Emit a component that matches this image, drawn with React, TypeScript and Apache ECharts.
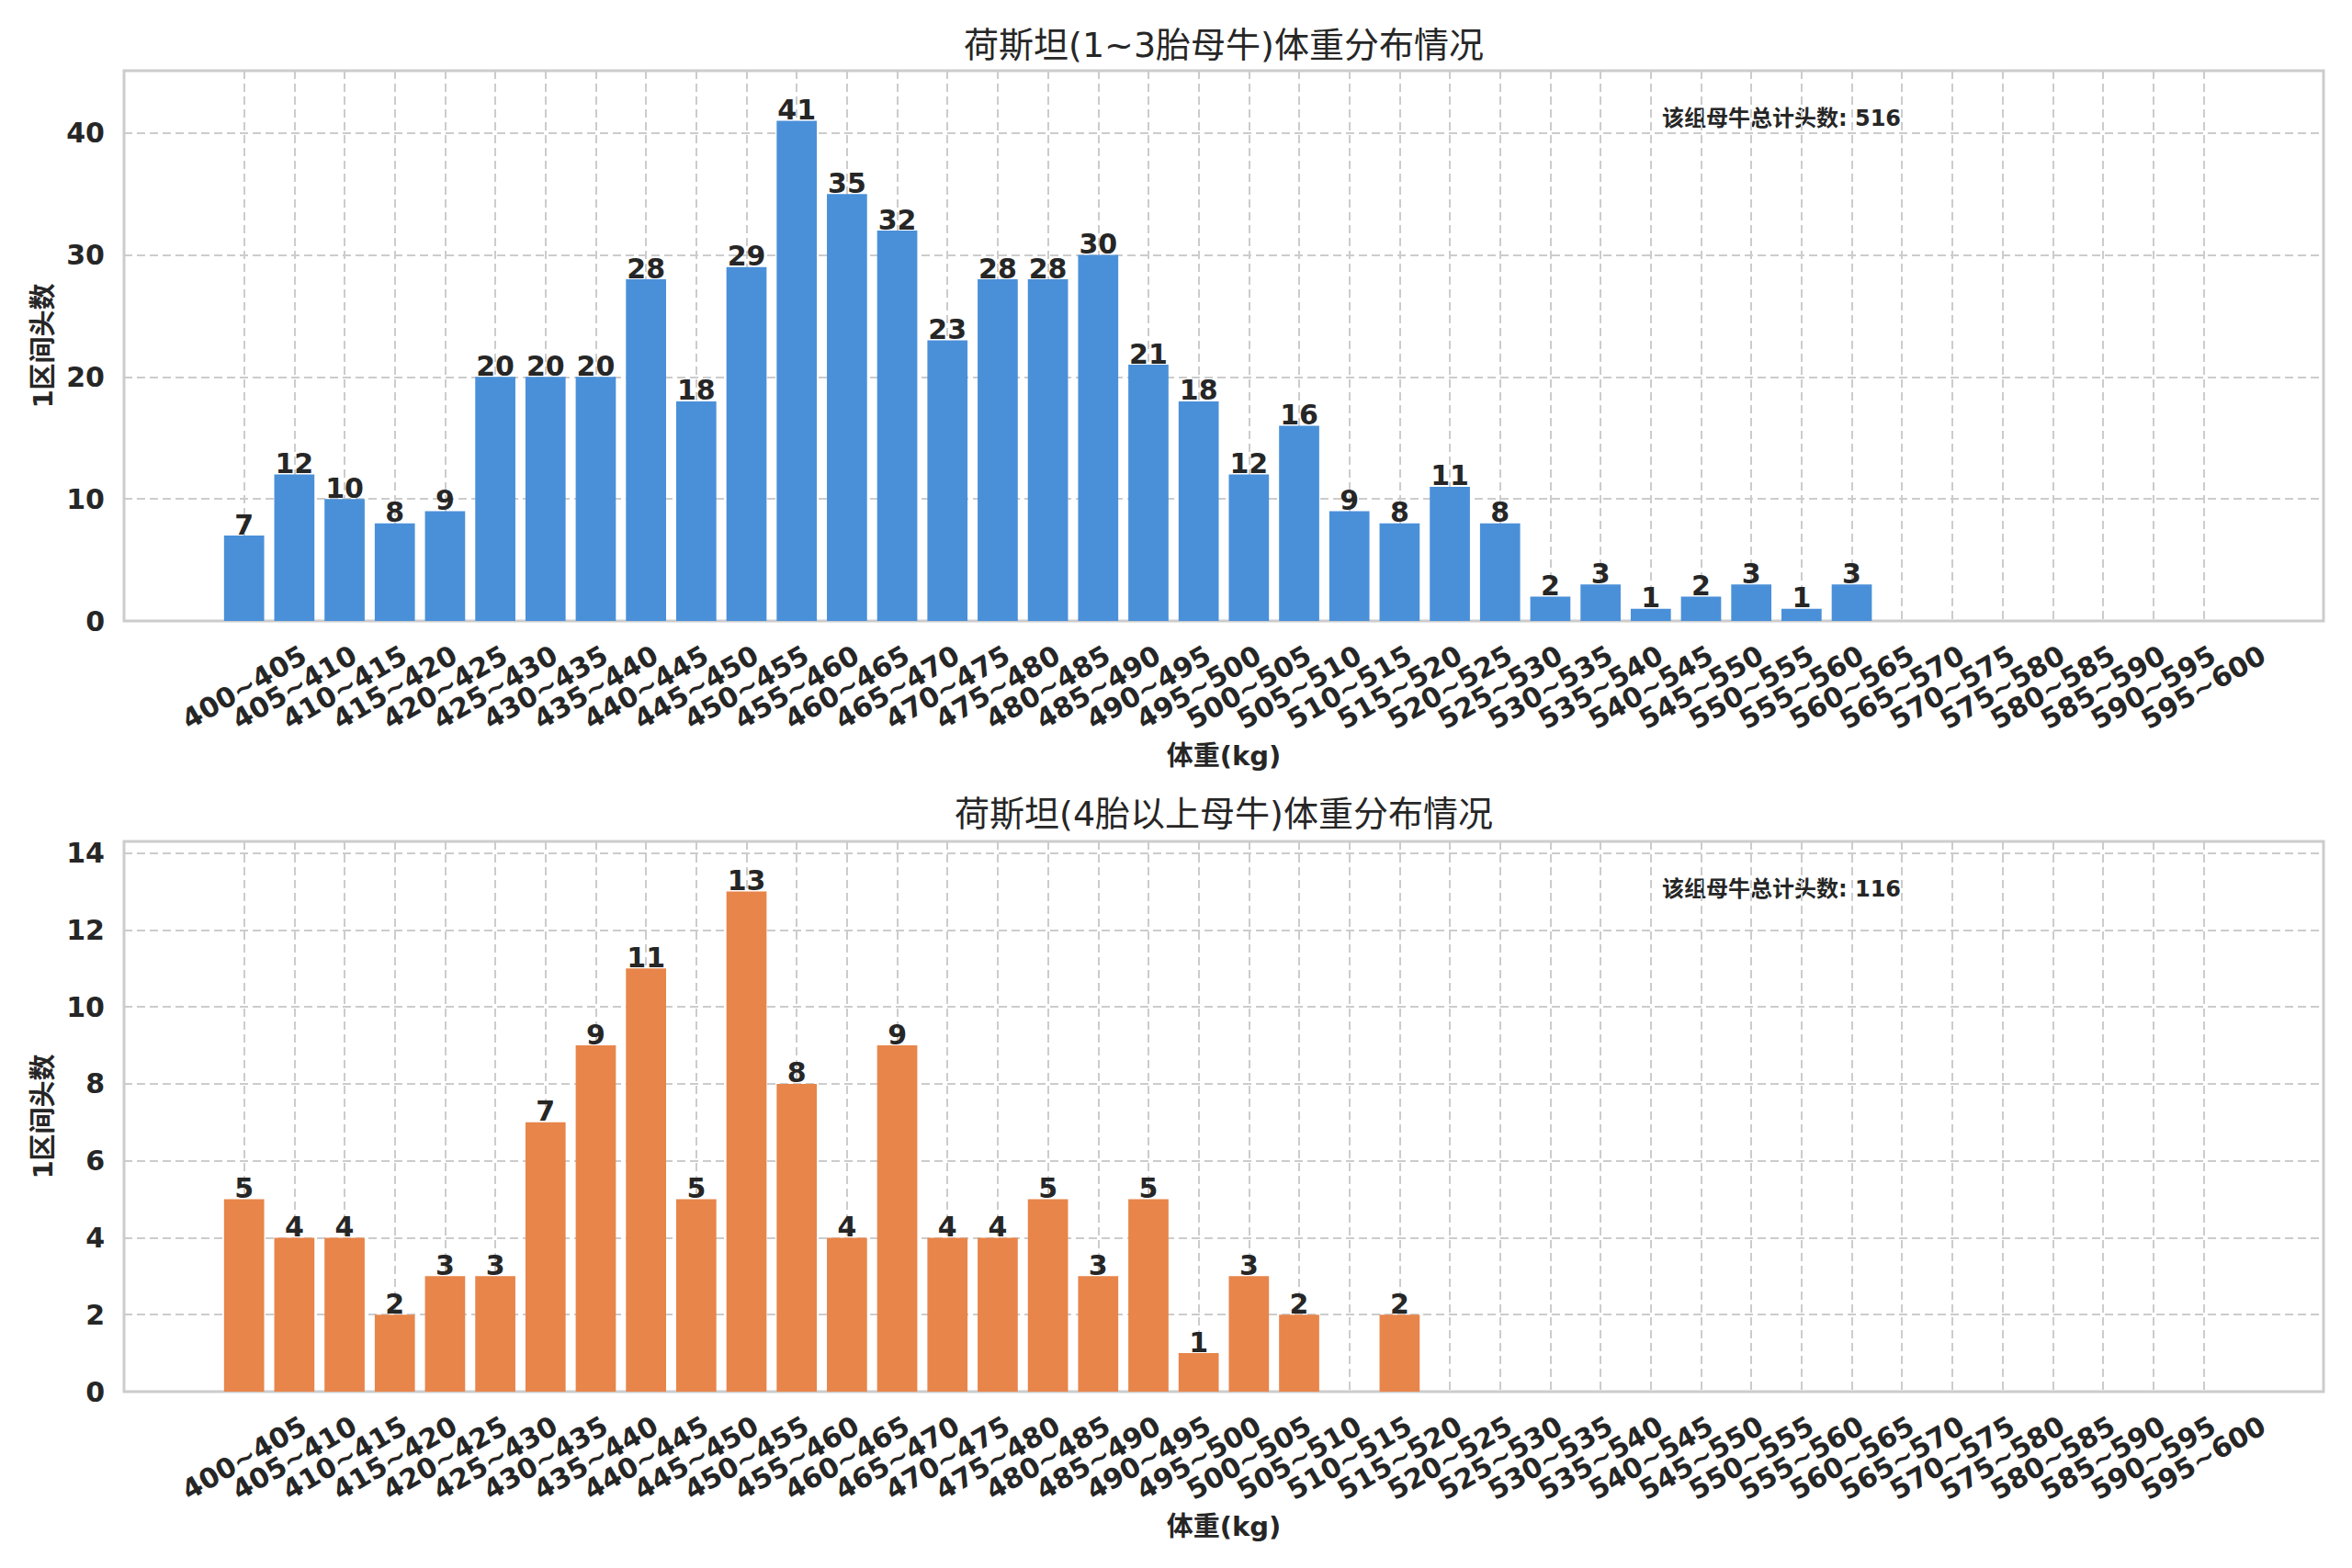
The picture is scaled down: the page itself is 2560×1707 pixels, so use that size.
import React, { useEffect, useRef } from "react";
import * as echarts from "echarts";

const categories = [
  "400~405", "405~410", "410~415", "415~420", "420~425", "425~430", "430~435", "435~440",
  "440~445", "445~450", "450~455", "455~460", "460~465", "465~470", "470~475", "475~480",
  "480~485", "485~490", "490~495", "495~500", "500~505", "505~510", "510~515", "515~520",
  "520~525", "525~530", "530~535", "535~540", "540~545", "545~550", "550~555", "555~560",
  "560~565", "565~570", "570~575", "575~580", "580~585", "585~590", "590~595", "595~600",
];

const group1Counts = [
  7, 12, 10, 8, 9, 20, 20, 20, 28, 18, 29, 41, 35, 32, 23, 28, 28, 30, 21, 18,
  12, 16, 9, 8, 11, 8, 2, 3, 1, 2, 3, 1, 3, 0, 0, 0, 0, 0, 0, 0,
];

const group2Counts = [
  5, 4, 4, 2, 3, 3, 7, 9, 11, 5, 13, 8, 4, 9, 4, 4, 5, 3, 5, 1,
  3, 2, 0, 2, 0, 0, 0, 0, 0, 0, 0, 0, 0, 0, 0, 0, 0, 0, 0, 0,
];

const group1Ticks = [0, 10, 20, 30, 40];
const group2Ticks = [0, 2, 4, 6, 8, 10, 12, 14];

const titles = ["荷斯坦(1~3胎母牛)体重分布情况", "荷斯坦(4胎以上母牛)体重分布情况"];
const totals = ["该组母牛总计头数: 516", "该组母牛总计头数: 116"];
const xName = "体重(kg)";
const yName = "1区间头数";

const FONT = "'DejaVu Sans', 'Noto Sans CJK SC', sans-serif";
const TEXT = "#262626";
const GRIDC = "#cccccc";
const colors = ["#4A90D9", "#E8854A"];

export default function App() {
  const ref = useRef<HTMLDivElement>(null);

  useEffect(() => {
    if (!ref.current) return;
    const chart = echarts.init(ref.current, undefined, { renderer: "svg" });
    const catIdx = categories.map((_, i) => i);
    // empty guard labels at both ends so no real label gets hidden by min/max overlap logic
    const labelIdx = [-2, ...catIdx, categories.length + 1];
    const groups = [
      { counts: group1Counts, ticks: group1Ticks },
      { counts: group2Counts, ticks: group2Ticks },
    ];
    const gridTops = [77, 916];

    const grids = gridTops.map((top) => ({
      left: 135,
      top,
      width: 2394,
      height: 599,
      show: true,
      borderColor: GRIDC,
      borderWidth: 3,
      backgroundColor: "transparent",
      containLabel: false,
    }));

    const xAxes = groups.map((_, gi) => ({
      type: "value",
      gridIndex: gi,
      min: -2.39,
      max: categories.length - 1 + 2.39,
      name: xName,
      nameLocation: "middle",
      nameGap: 132,
      nameTextStyle: { fontFamily: FONT, fontSize: 29, fontWeight: "bold", color: TEXT },
      axisLine: { show: false },
      axisTick: { show: false, customValues: catIdx },
      axisLabel: {
        customValues: labelIdx,
        formatter: (v: number) => categories[Math.round(v)] ?? "",
        rotate: 30,
        align: "center",
        verticalAlign: "middle",
        margin: 72,
        showMinLabel: true,
        showMaxLabel: true,
        hideOverlap: false,
        fontFamily: FONT,
        fontSize: 30,
        fontWeight: "bold",
        color: TEXT,
      },
      splitLine: {
        show: true,
        lineStyle: { color: GRIDC, width: 2, type: [9, 5] },
      },
    }));

    const yAxes = groups.map((g, gi) => ({
      type: "value",
      gridIndex: gi,
      min: 0,
      max: Math.max(...g.counts) * 1.1,
      name: yName,
      nameLocation: "middle",
      nameGap: 71,
      nameRotate: 90,
      nameTextStyle: { fontFamily: FONT, fontSize: 29, fontWeight: "bold", color: TEXT },
      axisLine: { show: false },
      axisTick: { show: false, customValues: g.ticks },
      axisLabel: {
        customValues: g.ticks,
        margin: 21,
        showMinLabel: true,
        showMaxLabel: true,
        fontFamily: FONT,
        fontSize: 30,
        fontWeight: "bold",
        color: TEXT,
      },
      splitLine: {
        show: true,
        lineStyle: { color: GRIDC, width: 2, type: [9, 5] },
      },
    }));

    const series = groups.map((g, gi) => ({
      type: "bar",
      xAxisIndex: gi,
      yAxisIndex: gi,
      data: g.counts.map((v, i) => [i, v]),
      barWidth: 43.7,
      itemStyle: { color: colors[gi], borderWidth: 0 },
      label: {
        show: true,
        position: "top",
        distance: -3,
        formatter: (p: any) => (p.value[1] > 0 ? String(p.value[1]) : ""),
        fontFamily: FONT,
        fontSize: 30,
        fontWeight: "bold",
        color: TEXT,
      },
    }));

    const titleYs = [49, 886];
    const totalYs = [129, 968];
    const graphic: any[] = [];
    titles.forEach((t, i) => {
      graphic.push({
        type: "text",
        x: 1332,
        y: titleYs[i],
        style: {
          text: t,
          fontFamily: FONT,
          fontSize: 38,
          fontWeight: "normal",
          fill: TEXT,
          align: "center",
          verticalAlign: "middle",
        },
      });
    });
    totals.forEach((t, i) => {
      graphic.push({
        type: "text",
        x: 1809,
        y: totalYs[i],
        style: {
          text: t,
          fontFamily: FONT,
          fontSize: 24,
          fontWeight: "bold",
          fill: TEXT,
          align: "left",
          verticalAlign: "middle",
        },
      });
    });

    chart.setOption({
      animation: false,
      backgroundColor: "#ffffff",
      grid: grids,
      xAxis: xAxes,
      yAxis: yAxes,
      series,
      graphic,
    } as any);

    return () => chart.dispose();
  }, []);

  return (
    <div
      ref={ref}
      style={{ position: "absolute", left: 0, top: 0, width: 2560, height: 1707 }}
    />
  );
}
